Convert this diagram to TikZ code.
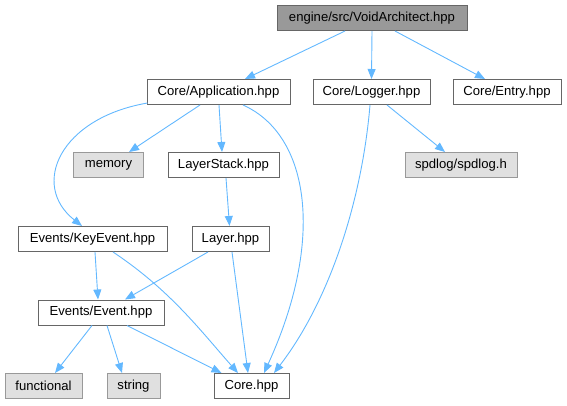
\documentclass[tikz,border=0pt]{standalone}
\usepackage{fontspec}
\setmainfont{Liberation Sans}
\usetikzlibrary{arrows.meta}
\definecolor{edgeblue}{HTML}{63B8FF}
\definecolor{bordergray}{HTML}{666666}
\definecolor{rootfill}{HTML}{999999}
\definecolor{extfill}{HTML}{E0E0E0}
\definecolor{extborder}{HTML}{999999}
\tikzset{
  filebox/.style={draw=bordergray, fill=white, line width=1pt, rectangle, minimum height=25pt, inner sep=0pt, font=\fontsize{13.1}{15}\selectfont},
  rootbox/.style={filebox, fill=rootfill},
  extbox/.style={filebox, fill=extfill, draw=extborder},
  dep/.style={draw=edgeblue, line width=0.9pt, -{Triangle[length=10pt,width=8pt]}, color=edgeblue}
}
\begin{document}
\begin{tikzpicture}[x=1pt,y=-1pt]
\useasboundingbox (0,0) rectangle (567,405);
\node[rootbox, minimum width=190pt] (root) at (372,18) {engine/src/VoidArchitect.hpp};
\node[filebox, minimum width=143pt] (app) at (218.5,92) {Core/Application.hpp};
\node[filebox, minimum width=117pt] (logger) at (371.5,92) {Core/Logger.hpp};
\node[filebox, minimum width=108pt] (entry) at (507,92) {Core/Entry.hpp};
\node[extbox, minimum width=70pt] (memory) at (108.5,165) {memory};
\node[filebox, minimum width=111pt] (lstack) at (223.5,165) {LayerStack.hpp};
\node[extbox, minimum width=112pt] (spdlog) at (461,165) {spdlog/spdlog.h};
\node[filebox, minimum width=149pt] (keyev) at (92.5,239) {Events/KeyEvent.hpp};
\node[filebox, minimum width=77pt] (layer) at (230.5,239) {Layer.hpp};
\node[filebox, minimum width=126pt] (event) at (101,312.5) {Events/Event.hpp};
\node[extbox, minimum width=77pt] (functional) at (43.5,386) {functional};
\node[extbox, minimum width=53pt] (string) at (133.5,386) {string};
\node[filebox, minimum width=75pt] (core) at (251.5,386) {Core.hpp};

\draw[dep] ([xshift=-27pt]root.south) -- ([xshift=26.5pt]app.north);
\draw[dep] (root.south) -- (logger.north);
\draw[dep] ([xshift=23pt]root.south) -- ([xshift=-22pt]entry.north);

\draw[dep] ([xshift=-18.5pt]app.south) -- ([xshift=20.5pt]memory.north);
\draw[dep] ([xshift=0.5pt]app.south) -- ([xshift=-1.5pt]lstack.north);
\draw[dep] ([xshift=-71pt,yshift=2pt]app.south) .. controls (60,118) and (30,185) .. ([xshift=-10.5pt]keyev.north);
\draw[dep] ([xshift=24.5pt]app.south) .. controls (310,135) and (325,240) .. ([xshift=12.5pt]core.north);

\draw[dep] ([xshift=2.5pt]lstack.south) -- ([xshift=-1pt]layer.north);

\draw[dep] ([xshift=15.5pt]logger.south) -- ([xshift=-16pt]spdlog.north);
\draw[dep] ([xshift=-1.5pt]logger.south) .. controls (362,200) and (330,300) .. ([xshift=22.5pt]core.north);

\draw[dep] ([xshift=2.5pt]keyev.south) -- ([xshift=-3pt]event.north);
\draw[dep] ([xshift=20.5pt]keyev.south) .. controls (170,290) and (200,330) .. ([xshift=-13.5pt]core.north);

\draw[dep] ([xshift=-22.5pt]layer.south) -- ([xshift=24pt]event.north);
\draw[dep] ([xshift=1.5pt]layer.south) -- ([xshift=-3.5pt]core.north);

\draw[dep] ([xshift=-9pt]event.south) -- ([xshift=11.5pt]functional.north);
\draw[dep] ([xshift=6pt]event.south) -- ([xshift=-11.5pt]string.north);
\draw[dep] ([xshift=26pt]event.south) -- ([xshift=-30pt]core.north);
\end{tikzpicture}
\end{document}
